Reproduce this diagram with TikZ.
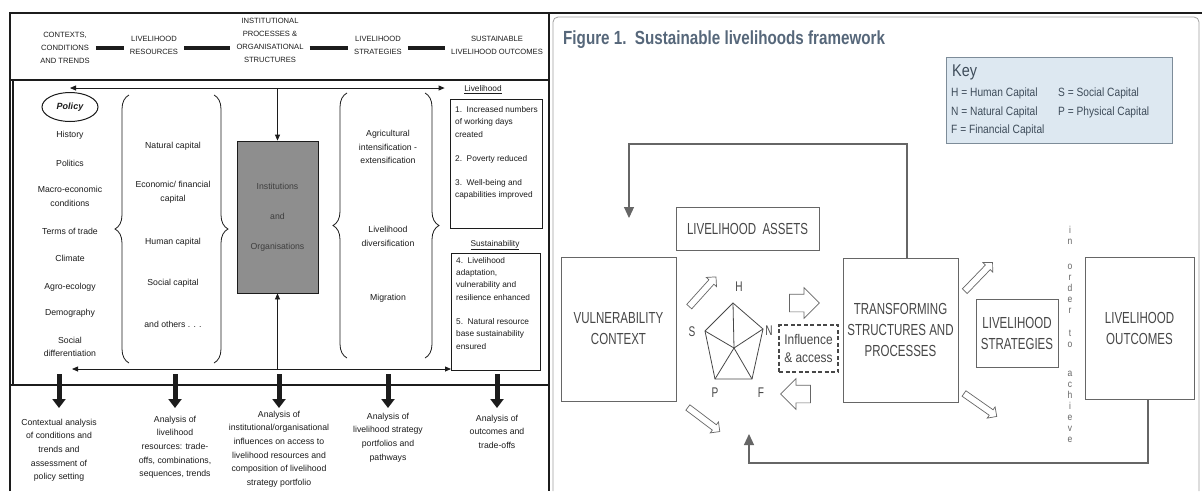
\documentclass[tikz,border=0pt]{standalone}
\usepackage{fontspec}
\setmainfont{Liberation Sans}
\newfontfamily\narrowfont[FakeStretch=0.72]{Liberation Sans}
\newfontfamily\keyfont[FakeStretch=0.85]{Liberation Sans}
\newfontfamily\titlefont[FakeStretch=0.8]{Liberation Sans}
\usetikzlibrary{arrows.meta,positioning,shapes.geometric,shapes.arrows,decorations.pathreplacing}
\definecolor{ink}{HTML}{1C1C1C}
\definecolor{instgray}{HTML}{8E8E8E}
\definecolor{slate}{HTML}{474747}
\definecolor{rule}{HTML}{666666}
\definecolor{frameg}{HTML}{A0A0A0}
\definecolor{titleblue}{HTML}{56677A}
\definecolor{keyfill}{HTML}{DDE8F1}
\definecolor{keyline}{HTML}{7D8C99}
\definecolor{keyink}{HTML}{3E4C5A}
\tikzset{
 lbl/.style={font=\fontsize{8.7}{13.7}\selectfont,text=ink,align=center,inner sep=0pt},
 head/.style={font=\fontsize{7.6}{13.2}\selectfont,text=ink,align=center,inner xsep=6pt,inner ysep=0pt},
 outtxt/.style={font=\fontsize{8.3}{12.7}\selectfont,text=ink,align=left,inner sep=0pt,anchor=north west},
 outbox/.style={draw=ink,line width=.8pt,anchor=north west,inner sep=0pt},
 frame/.style={draw=ink,line width=2pt},
 bar/.style={draw=ink,line width=3.5pt},
 link/.style={draw=ink,line width=.8pt,-{Triangle[length=6pt,width=5pt]}},
 twoway/.style={draw=ink,line width=.8pt,{Triangle[length=6pt,width=5pt]}-{Triangle[length=6pt,width=5pt]}},
 bigdown/.style={draw=ink,line width=5pt,-{Triangle[length=9pt,width=13pt]}},
 curly/.style={draw=ink,line width=.8pt,decorate,decoration={brace,amplitude=14pt}},
 rbox/.style={draw=rule,line width=.9pt,text=slate,align=center,font=\narrowfont\fontsize{16}{21}\selectfont},
 fback/.style={draw=rule,line width=1.1pt,-{Triangle[length=11pt,width=10pt]}},
 hollow/.style={single arrow,draw=rule,line width=.7pt,fill=white,inner xsep=0pt,single arrow head indent=0pt},
 slimarrow/.style={hollow,minimum height=40pt,inner ysep=3pt,single arrow head extend=3.5pt},
 blockarrow/.style={hollow,minimum height=30pt,inner ysep=8.5pt,single arrow head extend=6.5pt},
 vertexlbl/.style={text=slate,font=\narrowfont\fontsize{14}{16}\selectfont,inner sep=0pt},
 keyitem/.style={anchor=west,inner sep=0pt,text=keyink,font=\keyfont\fontsize{12}{14}\selectfont}
}
\begin{document}
\begin{tikzpicture}[x=1pt,y=-1pt]
  \useasboundingbox (0,0) rectangle (1202,491);
  \fill[white] (0,0) rectangle (1202,491);

  \draw[frame] (9.5,491) -- (9.5,13) -- (1202,13);
  \draw[frame] (549,13) -- (549,491);
  \draw[frame] (9.5,79.5) -- (549,79.5);
  \draw[frame] (9.5,385) -- (549,385);
  \draw[frame] (13,79.5) -- (13,385);

  \node[head] (h1) at (65,48) {CONTEXTS,\\CONDITIONS\\AND TRENDS};
  \node[head] (h2) at (154,45.5) {LIVELIHOOD\\RESOURCES};
  \node[head] (h3) at (270,40.5) {INSTITUTIONAL\\PROCESSES \&\\ORGANISATIONAL\\STRUCTURES};
  \node[head] (h4) at (378,45.5) {LIVELIHOOD\\STRATEGIES};
  \node[head] (h5) at (497,45.5) {SUSTAINABLE\\LIVELIHOOD OUTCOMES};
  \coordinate (hbar) at (0,48);
  \foreach \a/\b in {h1/h2,h2/h3,h3/h4,h4/h5}
    \draw[bar] (\a.east |- hbar) -- (\b.west |- hbar);

  \node[draw=ink,ellipse,line width=1pt,minimum width=56pt,minimum height=29pt,text=ink,
        font=\bfseries\itshape\fontsize{9}{11}\selectfont] (policy) at (70,107) {Policy};
  \foreach \y/\t [count=\i] in {135/History,163/Politics,196.5/{Macro-economic\\conditions},231/Terms of trade,
      258/Climate,287/Agro-ecology,313/Demography,347/{Social\\differentiation}}
    \node[lbl] (ctx\i) at (70,\y) {\t};

  \foreach \y/\t [count=\i] in {146/Natural capital,192/{Economic/ financial\\capital},242/Human capital,
      283/Social capital,324/and others . . .}
    \node[lbl] (res\i) at (173,\y) {\t};

  \foreach \y/\t [count=\i] in {147/{Agricultural\\intensification -\\extensification},236.5/{Livelihood\\diversification},298/Migration}
    \node[lbl] (strat\i) at (388,\y) {\t};

  \draw[curly] (129,363) -- (129,95);
  \draw[curly] (214,95) -- (214,363);
  \draw[curly] (347,358) -- (347,93);
  \draw[curly] (425,93) -- (425,358);

  \node[lbl,draw=ink,line width=.8pt,fill=instgray,minimum width=81pt,minimum height=152pt,
        font=\fontsize{8.7}{30}\selectfont,text=ink!85] (inst) at (277.5,217) {Institutions\\and\\Organisations};

  \node[lbl,font=\fontsize{8.3}{10}\selectfont] (livlab) at (483,90) {\underline{Livelihood}};
  \node[outbox,minimum width=92pt,minimum height=129pt] (out1) at (450,99) {};
  \node[outtxt] (out1txt) at ([xshift=5pt,yshift=-7pt]out1.north west)
    {1.~~Increased numbers\\of working days\\created\\[11pt]2.~~Poverty reduced\\[11pt]3.~~Well-being and\\capabilities improved};
  \node[lbl,font=\fontsize{8.3}{10}\selectfont] (suslab) at (495,245) {\underline{Sustainability}};
  \node[outbox,minimum width=89pt,minimum height=117pt] (out2) at (451,253) {};
  \node[outtxt,font=\fontsize{8.3}{12.3}\selectfont] (out2txt) at ([xshift=5pt,yshift=-4pt]out2.north west)
    {4.~~Livelihood\\adaptation,\\vulnerability and\\resilience enhanced\\[12pt]5.~~Natural resource\\base sustainability\\ensured};

  \coordinate (topL) at (70,88);
  \coordinate (botL) at (72,369);
  \draw[twoway,shorten >=19.5pt] (topL) -- (topL -| livlab.west);
  \draw[link] (inst.north |- topL) -- (inst.north);
  \draw[twoway] (botL) -- (botL -| out2.west);
  \draw[link] (inst.south |- botL) -- (inst.south);

  \node[lbl,anchor=north,inner ysep=10.5pt] (an1) at (59,408) {Contextual analysis\\of conditions and\\trends and\\assessment of\\policy setting};
  \node[lbl,anchor=north,inner ysep=7.5pt] (an2) at (175,408) {Analysis of\\livelihood\\resources: trade-\\offs, combinations,\\sequences, trends};
  \node[lbl,anchor=north,inner ysep=2.5pt] (an3) at (279,408) {Analysis of\\institutional/organisational\\influences on access to\\livelihood resources and\\composition of livelihood\\strategy portfolio};
  \node[lbl,anchor=north,inner ysep=4.5pt] (an4) at (388,408) {Analysis of\\livelihood strategy\\portfolios and\\pathways};
  \node[lbl,anchor=north,inner ysep=6.5pt] (an5) at (497,408) {Analysis of\\outcomes and\\trade-offs};
  \coordinate (stripe) at (0,374);
  \foreach \n in {an1,an2,an3,an4,an5}
    \draw[bigdown] (\n.north |- stripe) -- (\n.north);

  \draw[draw=frameg,line width=.8pt,rounded corners=5pt] (553,491) -- (553,17) -- (1199,17) -- (1199,491);

  \node[anchor=west,inner sep=0pt,text=titleblue,font=\titlefont\bfseries\fontsize{19}{22}\selectfont] (title)
    at (563,40) {Figure 1.\ \ Sustainable livelihoods framework};

  \node[draw=keyline,fill=keyfill,line width=.8pt,minimum width=226pt,minimum height=86pt,inner sep=0pt] (key) at (1059,100) {};
  \node[keyitem,font=\keyfont\fontsize{17}{19}\selectfont] (keyhead) at (952,72) {Key};
  \node[keyitem] (kH) at (951,93) {H = Human Capital};
  \node[keyitem] (kN) at (951,112) {N = Natural Capital};
  \node[keyitem] (kF) at (951,130) {F = Financial Capital};
  \node[keyitem] (kS) at (1058,93) {S = Social Capital};
  \node[keyitem] (kP) at (1058,112) {P = Physical Capital};

  \node[rbox,minimum width=143pt,minimum height=43pt] (assets) at (747.5,228.5) {LIVELIHOOD\ \ ASSETS};
  \node[rbox,minimum width=115pt,minimum height=144pt] (vuln) at (618.5,329) {VULNERABILITY\\CONTEXT};
  \node[rbox,minimum width=115pt,minimum height=144pt] (tsp) at (900.5,330) {TRANSFORMING\\STRUCTURES AND\\PROCESSES};
  \node[rbox,minimum width=82pt,minimum height=68pt] (strat) at (1017,333) {LIVELIHOOD\\STRATEGIES};
  \node[rbox,minimum width=109pt,minimum height=142pt] (outc) at (1139.5,328) {LIVELIHOOD\\OUTCOMES};
  \node[rbox,draw=slate,dash pattern=on 4pt off 2.5pt,line width=1.5pt,minimum width=59pt,minimum height=47pt,inner sep=0pt,
        font=\keyfont\fontsize{14}{18}\selectfont] (infl) at (808.5,348.5) {Influence\\\& access};

  \coordinate (pH) at (733,303);
  \coordinate (pN) at (763,329);
  \coordinate (pF) at (752,379);
  \coordinate (pP) at (715,379);
  \coordinate (pS) at (705,331);
  \coordinate (pC) at (734,348);
  \draw[slate,line width=.8pt] (pH) -- (pN) -- (pF) -- (pP) -- (pS) -- cycle;
  \foreach \v in {pH,pN,pF,pP,pS}
    \draw[slate,line width=.8pt] (pC) -- (\v);
  \node[vertexlbl] (lH) at (739,287) {H};
  \node[vertexlbl] (lS) at (692,332) {S};
  \node[vertexlbl] (lN) at (769,331) {N};
  \node[vertexlbl] (lP) at (715,393) {P};
  \node[vertexlbl] (lF) at (761,393) {F};

  \node[slimarrow,rotate=48] (up1) at (701.5,293) {};
  \node[slimarrow,rotate=-37] (dn1) at (702.5,418.5) {};
  \node[slimarrow,rotate=46] (up2) at (977.5,278) {};
  \node[slimarrow,rotate=-35] (dn2) at (979,404) {};
  \node[blockarrow] (toT) at (800,303) {};
  \node[blockarrow,shape border rotate=180] (fromT) at (800,394) {};

  \node[anchor=north,inner sep=0pt,align=center,text=rule,font=\keyfont\fontsize{10}{11}\selectfont] (aim)
    at (1070,226) {i\\n\\[14pt]o\\r\\d\\e\\r\\[12pt]t\\o\\[18pt]a\\c\\h\\i\\e\\v\\e};

  \coordinate (fbtop) at (629,144);
  \coordinate (fbtip) at (629,218);
  \draw[fback] ([xshift=6.5pt]tsp.north) |- (fbtop) -- (fbtip);
  \coordinate (fbbot) at (749,463);
  \coordinate (fbend) at (749,434);
  \draw[fback] ([xshift=8.5pt]outc.south) |- (fbbot) -- (fbend);
\end{tikzpicture}
\end{document}
